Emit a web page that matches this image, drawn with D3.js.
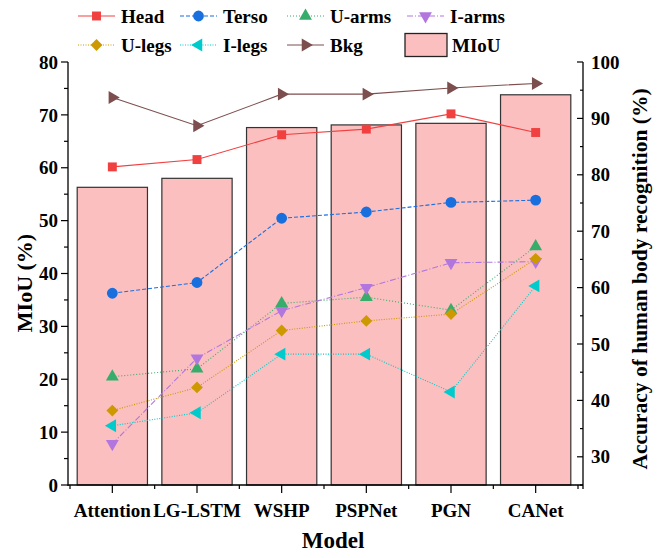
<!DOCTYPE html>
<html>
<head>
<meta charset="utf-8">
<script src="https://cdn.jsdelivr.net/npm/d3@7"></script>
<style>
  body { margin: 0; background: #fff; }
  text { font-family: "Liberation Serif", "Times New Roman", serif; font-weight: bold; fill: #000; }
</style>
</head>
<body>
<svg id="chart" width="661" height="558"></svg>
<script>
// values
const models = ["Attention", "LG-LSTM", "WSHP", "PSPNet", "PGN", "CANet"];
const miou   = [56.3, 58.0, 67.6, 68.1, 68.4, 73.8];
const head   = [81.4, 82.7, 87.1, 88.1, 90.8, 87.5];
const terso  = [59.0, 60.9, 72.3, 73.4, 75.1, 75.5];
const uArms  = [44.2, 45.6, 57.2, 58.3, 56.0, 67.3];
const iArms  = [32.3, 47.5, 55.9, 60.0, 64.4, 64.6];
const uLegs  = [38.2, 42.3, 52.4, 54.1, 55.3, 65.1];
const iLegs  = [35.5, 37.8, 48.2, 48.2, 41.5, 60.3];
const bkg    = [93.7, 88.7, 94.3, 94.3, 95.4, 96.2];
const leftTicks  = [0, 10, 20, 30, 40, 50, 60, 70, 80];
const rightTicks = [30, 40, 50, 60, 70, 80, 90, 100];

const series = [
  { name: "Head",   values: head,  color: "#f14040", dash: null,      symbol: "square" },
  { name: "Terso",  values: terso, color: "#1a6fdf", dash: "4,2",     symbol: "circle" },
  { name: "U-arms", values: uArms, color: "#37ad6b", dash: "1,2",     symbol: "up" },
  { name: "I-arms", values: iArms, color: "#b177de", dash: "6,2,1,2", symbol: "down" },
  { name: "U-legs", values: uLegs, color: "#cc9900", dash: "1,1.5",   symbol: "diamond" },
  { name: "I-legs", values: iLegs, color: "#00cbcc", dash: "1,1.5",   symbol: "left" },
  { name: "Bkg",    values: bkg,   color: "#7d4e4e", dash: null,      symbol: "right" }
];

const svg = d3.select("#chart");
const pLeft = 68, pRight = 583, pTop = 62, pBottom = 485;

const x = d3.scaleBand().domain(models).range([70, 578]).paddingInner(0.17).paddingOuter(0.085);
const yL = d3.scaleLinear().domain([0, 80]).range([pBottom, pTop]);
const yR = d3.scaleLinear().domain([25, 100]).range([pBottom, pTop]);

function symbolPath(kind) {
  let type = d3.symbolTriangle, size = 72, rot = 0;
  if (kind === "square") { type = d3.symbolSquare; size = 80; }
  else if (kind === "circle") { type = d3.symbolCircle; size = 92; }
  else if (kind === "diamond") { type = d3.symbolSquare; size = 70; rot = 45; }
  else if (kind === "down") rot = 180;
  else if (kind === "left") rot = -90;
  else if (kind === "right") rot = 90;
  return { d: d3.symbol().type(type).size(size)(), rot };
}

// bars (MIoU, left axis)
svg.append("g").selectAll("rect")
  .data(models)
  .join("rect")
  .attr("x", d => x(d))
  .attr("y", (d, i) => yL(miou[i]))
  .attr("width", x.bandwidth())
  .attr("height", (d, i) => pBottom - yL(miou[i]))
  .attr("fill", "#fcbfbf")
  .attr("stroke", "#333")
  .attr("stroke-width", 1.2);

// lines (accuracy, right axis)
const cx = d => x(d) + x.bandwidth() / 2;
const line = d3.line().x(d => cx(d.m)).y(d => yR(d.v));

series.forEach(s => {
  const pts = models.map((m, i) => ({ m, v: s.values[i] }));
  svg.append("path")
    .datum(pts)
    .attr("fill", "none")
    .attr("stroke", s.color)
    .attr("stroke-width", 1.1)
    .attr("stroke-dasharray", s.dash)
    .attr("d", line);
  const sym = symbolPath(s.symbol);
  svg.append("g").selectAll("path")
    .data(pts)
    .join("path")
    .attr("d", sym.d)
    .attr("fill", s.color)
    .attr("transform", d => `translate(${cx(d.m)},${yR(d.v)}) rotate(${sym.rot})`);
});

// left axis
const gL = svg.append("g").attr("transform", `translate(${pLeft},0)`);
gL.append("line").attr("y1", pTop).attr("y2", pBottom + 1).attr("stroke", "#000").attr("stroke-width", 1.3);
gL.selectAll(".minor").data(d3.range(5, 80, 10)).join("line")
  .attr("x1", -4).attr("x2", 0).attr("y1", d => yL(d)).attr("y2", d => yL(d))
  .attr("stroke", "#000").attr("stroke-width", 1.2);
gL.selectAll(".major").data(leftTicks).join("line")
  .attr("x1", -7).attr("x2", 0).attr("y1", d => yL(d)).attr("y2", d => yL(d))
  .attr("stroke", "#000").attr("stroke-width", 1.2);
gL.selectAll("text").data(leftTicks).join("text")
  .attr("x", -10).attr("y", d => yL(d)).attr("dy", "0.35em")
  .attr("text-anchor", "end").attr("font-size", 19).text(d => d);

// right axis (ticks inward)
const gR = svg.append("g").attr("transform", `translate(${pRight},0)`);
gR.append("line").attr("y1", pTop).attr("y2", pBottom + 4).attr("stroke", "#000").attr("stroke-width", 1.3);
gR.selectAll(".minor").data(d3.range(25, 100, 10)).join("line")
  .attr("x1", -3).attr("x2", 0).attr("y1", d => yR(d)).attr("y2", d => yR(d))
  .attr("stroke", "#000").attr("stroke-width", 1.2);
gR.selectAll(".major").data(rightTicks).join("line")
  .attr("x1", -6).attr("x2", 0).attr("y1", d => yR(d)).attr("y2", d => yR(d))
  .attr("stroke", "#000").attr("stroke-width", 1.2);
gR.selectAll("text").data(rightTicks).join("text")
  .attr("x", 8).attr("y", d => yR(d)).attr("dy", "0.35em")
  .attr("font-size", 19).text(d => d);

// bottom axis
const gB = svg.append("g").attr("transform", `translate(0,${pBottom})`);
gB.append("line").attr("x1", pLeft).attr("x2", pRight).attr("stroke", "#000").attr("stroke-width", 1.3);
const halfGap = x.step() * x.paddingInner() / 2;
const bounds = models.map(m => x(m) - halfGap).concat([x(models[models.length - 1]) + x.bandwidth() + halfGap]);
gB.selectAll(".minor").data(bounds).join("line")
  .attr("x1", d => d).attr("x2", d => d).attr("y1", 0).attr("y2", 4)
  .attr("stroke", "#000").attr("stroke-width", 1.2);
gB.selectAll(".major").data(models).join("line")
  .attr("x1", cx).attr("x2", cx).attr("y1", 0).attr("y2", 8)
  .attr("stroke", "#000").attr("stroke-width", 1.2);
gB.selectAll("text").data(models).join("text")
  .attr("x", cx).attr("y", 32)
  .attr("text-anchor", "middle").attr("font-size", 19).text(d => d);

// axis titles
svg.append("text").attr("x", 333).attr("y", 548).attr("text-anchor", "middle")
  .attr("font-size", 23).text("Model");
svg.append("text").attr("transform", "translate(32,283) rotate(-90)").attr("text-anchor", "middle")
  .attr("font-size", 22).text("MIoU (%)");
svg.append("text").attr("transform", "translate(647,279) rotate(-90)").attr("text-anchor", "middle")
  .attr("font-size", 21.5).text("Accuracy of human body recognition (%)");

// legend
const legendX = [78, 180, 287, 407];
const legend = svg.append("g");
series.forEach((s, i) => {
  const lx = legendX[i % 4], ly = i < 4 ? 16 : 45;
  const g = legend.append("g").attr("transform", `translate(${lx},${ly})`);
  g.append("line").attr("x1", 0).attr("x2", 37)
    .attr("stroke", s.color).attr("stroke-width", 1.1).attr("stroke-dasharray", s.dash);
  const sym = symbolPath(s.symbol);
  g.append("path").attr("d", sym.d).attr("fill", s.color)
    .attr("transform", `translate(18.5,0) rotate(${sym.rot})`);
  g.append("text").attr("x", 43).attr("dy", "0.35em").attr("font-size", 19).text(s.name);
});
const mg = legend.append("g").attr("transform", "translate(405,45)");
mg.append("rect").attr("x", 0).attr("y", -11.5).attr("width", 42).attr("height", 23)
  .attr("fill", "#fcbfbf").attr("stroke", "#222").attr("stroke-width", 1.3);
mg.append("text").attr("x", 47).attr("dy", "0.35em").attr("font-size", 19).text("MIoU");
</script>
</body>
</html>
